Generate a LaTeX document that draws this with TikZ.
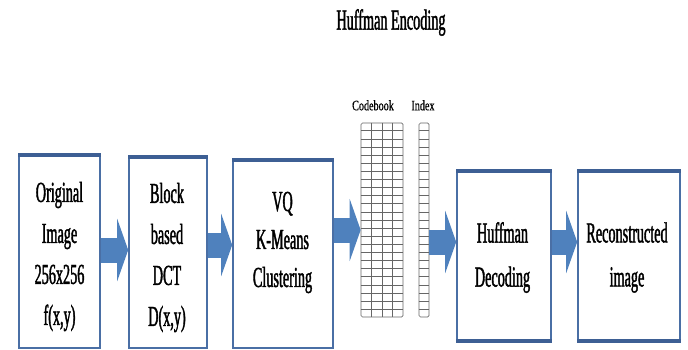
\documentclass[tikz,border=0pt]{standalone}
\usepackage{fontspec}
\usepackage{tikz}
\usetikzlibrary{arrows.meta,calc,positioning}
\newfontfamily\boxfont[FakeStretch=0.49,FakeBold=1.3]{Liberation Serif}
\newfontfamily\labelfont[FakeStretch=0.7,FakeBold=0.6]{Liberation Serif}
\definecolor{boxblue}{HTML}{4A6FA5}
\definecolor{edgeblue}{HTML}{3D5F94}
\definecolor{flowblue}{HTML}{4F81BD}
\definecolor{cellgray}{HTML}{666666}
\tikzset{
	blockbox/.style 2 args={draw=boxblue,line width=1.6pt,fill=white,minimum width=#1,minimum height=#2,inner sep=0pt},
	boxedge/.style={draw=edgeblue,line width=4pt},
	boxtext/.style={font=\boxfont\fontsize{29}{#1}\selectfont,align=center,inner sep=0pt},
	boxtext/.default=41,
	smalltext/.style={font=\labelfont\fontsize{14.5}{15}\selectfont,inner sep=0pt},
	table/.style 2 args={draw=cellgray,line width=0.7pt,rounded corners=1.5pt,minimum width=#1,minimum height=#2,inner sep=0pt},
	cell/.style={draw=cellgray,line width=0.6pt},
	flow/.style={draw=flowblue,line width=25pt,-{Triangle[length=11pt,width=62pt]}}
}
\begin{document}
\begin{tikzpicture}[x=1pt,y=-1pt]
	\useasboundingbox (0,0) rectangle (688,350);

	\node [boxtext] (title) at (391,22.5) {Huffman Encoding};

	\node [blockbox={81pt}{192pt}] (orig) at (59.5,252) {};
	\node [blockbox={78pt}{190pt}] (dct) at (168,253) {};
	\node [blockbox={100pt}{187pt}] (vq) at (283,254.5) {};
	\node [blockbox={94pt}{168pt}] (dec) at (504,256) {};
	\node [blockbox={102pt}{168pt}] (rec) at (629,256) {};

	\foreach \b in {orig,dct,vq,dec,rec}
		\draw [boxedge] (\b.north west) -- (\b.north east);
	\foreach \b in {dec,rec}
		\draw [boxedge] (\b.south west) -- (\b.south east);

	\node [boxtext] (origtext) at (59.5,256.5) {Original\\Image\\256x256\\f(x,y)};
	\node [boxtext] (dcttext) at (167,257.5) {Block\\based\\DCT\\D(x,y)};
	\node [boxtext=38] (vqtext) at (282.5,242.5) {VQ\\K-Means\\Clustering};
	\node [boxtext=44] (dectext) at (502.5,257.5) {Huffman\\Decoding};
	\node [boxtext=44] (rectext) at (627,257.5) {Reconstructed\\image};

	\node [table={42pt}{194pt}] (codebook) at (382,220) {};
	\node [table={10pt}{194pt}] (index) at (424,220) {};
	\foreach \i in {1,...,3}
		\draw [cell] ($(codebook.north west)!\i/4!(codebook.north east)$) -- ($(codebook.south west)!\i/4!(codebook.south east)$);
	\foreach \j in {1,...,23} {
		\draw [cell] ($(codebook.north west)!\j/24!(codebook.south west)$) -- ($(codebook.north east)!\j/24!(codebook.south east)$);
		\draw [cell] ($(index.north west)!\j/24!(index.south west)$) -- ($(index.north east)!\j/24!(index.south east)$);
	}
	\node [smalltext,above=12pt of codebook.north,xshift=-9pt] (cblabel) {Codebook};
	\node [smalltext,above=12pt of index.north,xshift=-1pt] (idxlabel) {Index};

	\coordinate (lvla) at (0,250);
	\coordinate (lvlb) at (0,245);
	\coordinate (lvlc) at (0,230);
	\coordinate (lvld) at (0,242);

	\draw [flow] (orig.east |- lvla) -- (dct.west |- lvla);
	\draw [flow] (dct.east |- lvlb) -- (vq.west |- lvlb);
	\draw [flow] (vq.east |- lvlc) -- (codebook.west |- lvlc);
	\draw [flow] (index.east |- lvld) -- (dec.west |- lvld);
	\draw [flow] (dec.east |- lvld) -- (rec.west |- lvld);
\end{tikzpicture}
\end{document}
